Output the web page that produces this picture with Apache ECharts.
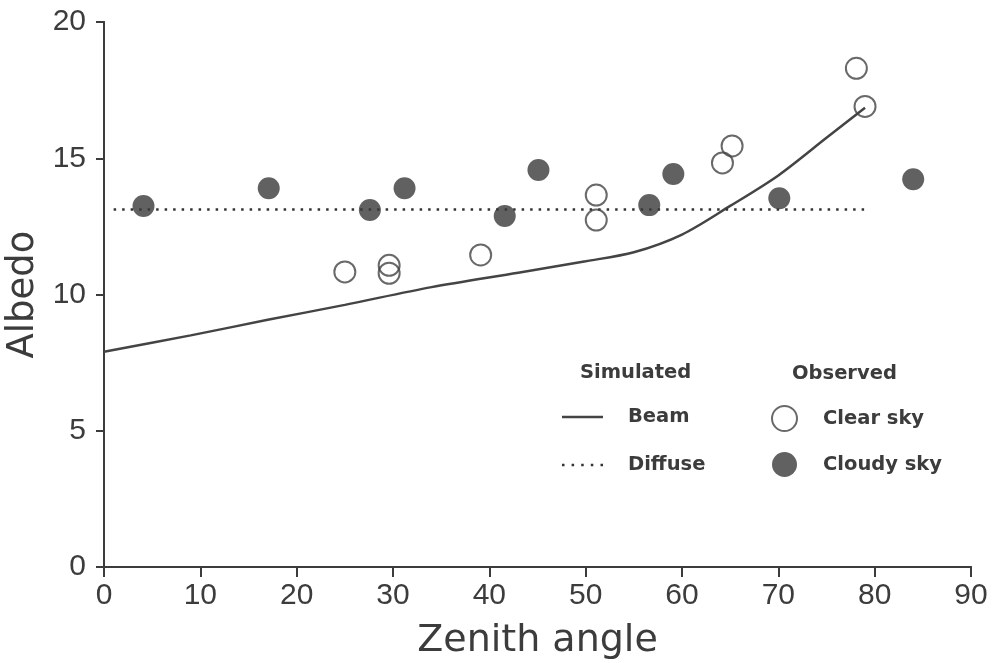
<!DOCTYPE html>
<html lang="en">
  <head>
    <meta charset="UTF-8" />
    <title>Albedo vs zenith angle</title>
    <script src="https://cdn.jsdelivr.net/npm/echarts@6/dist/echarts.min.js"></script>
    <style>
      html, body { margin: 0; padding: 0; background: #fff; }
      #main { width: 999px; height: 663px; }
    </style>
  </head>
  <body>
    <div id="main"></div>
    <script>
      // observed, clear sky (open circles)
      var clearX = [25.0, 29.6, 29.6, 39.1, 51.1, 51.1, 64.2, 65.2, 78.1, 79.0];
      var clearY = [10.83, 11.07, 10.78, 11.45, 13.65, 12.73, 14.83, 15.45, 18.3, 16.9];
      // observed, cloudy sky (filled circles)
      var cloudyX = [4.1, 17.1, 27.6, 31.2, 41.6, 45.1, 56.6, 59.1, 70.1, 84.0];
      var cloudyY = [13.25, 13.9, 13.1, 13.9, 12.88, 14.57, 13.28, 14.42, 13.53, 14.23];
      // simulated beam
      var beamX = [0, 9, 17, 25, 34, 43, 50, 55, 60, 65, 70, 75, 79];
      var beamY = [7.9, 8.5, 9.07, 9.62, 10.27, 10.8, 11.22, 11.55, 12.2, 13.25, 14.37, 15.75, 16.85];
      // simulated diffuse
      var diffuseX = [1, 79];
      var diffuseY = [13.12, 13.12];

      var xTicks = [0, 10, 20, 30, 40, 50, 60, 70, 80, 90];
      var yTicks = [0, 5, 10, 15, 20];

      var ink = "#3c3c3c";
      var tickFont = "Liberation Sans";

      function pairs(xs, ys) {
        var out = [];
        for (var i = 0; i < xs.length; i++) out.push([xs[i], ys[i]]);
        return out;
      }

      // legend icons: a plain stroke and five dots
      var solidIcon = "path://M0,0 L41,0 L41,2.5 L0,2.5 Z";
      var dottedIcon = "path://M0,0 h2.5 v2.5 h-2.5 Z M9.6,0 h2.5 v2.5 h-2.5 Z M19.2,0 h2.5 v2.5 h-2.5 Z" +
        " M28.8,0 h2.5 v2.5 h-2.5 Z M38.5,0 h2.5 v2.5 h-2.5 Z";

      var chart = echarts.init(document.getElementById("main"));

      var option = {
        backgroundColor: "#fff",
        animation: false,
        grid: { left: 104, right: 28, top: 22, bottom: 96, containLabel: false, outerBoundsMode: "none" },
        xAxis: [
          {
            type: "value",
            min: xTicks[0],
            max: xTicks[xTicks.length - 1],
            interval: 10,
            name: "Zenith angle",
            nameLocation: "middle",
            nameGap: 55,
            nameTextStyle: { fontFamily: "DejaVu Sans", fontSize: 38, color: ink },
            axisLine: { lineStyle: { color: ink, width: 2 } },
            axisTick: { length: 10, lineStyle: { color: ink, width: 2 } },
            axisLabel: { margin: 14, fontFamily: tickFont, fontSize: 30, color: ink },
            splitLine: { show: false }
          },
          {
            // closes the frame at the top
            type: "value",
            position: "top",
            min: 0, max: 90,
            axisLine: { show: true, lineStyle: { color: ink, width: 2 } },
            axisTick: { show: false },
            axisLabel: { show: false },
            splitLine: { show: false }
          }
        ],
        yAxis: [
          {
            type: "value",
            min: yTicks[0],
            max: yTicks[yTicks.length - 1],
            interval: 5,
            name: "Albedo",
            nameLocation: "middle",
            nameGap: 62,
            nameTextStyle: { fontFamily: "DejaVu Sans", fontSize: 37, color: ink },
            axisLine: { lineStyle: { color: ink, width: 2 } },
            axisTick: { length: 8, lineStyle: { color: ink, width: 2 } },
            axisLabel: { margin: 18, fontFamily: tickFont, fontSize: 30, color: ink },
            splitLine: { show: false }
          },
          {
            // closes the frame on the right
            type: "value",
            position: "right",
            min: 0, max: 20,
            axisLine: { show: true, lineStyle: { color: ink, width: 2 } },
            axisTick: { show: false },
            axisLabel: { show: false },
            splitLine: { show: false }
          }
        ],
        legend: [
          {
            data: [
              { name: "Beam", icon: solidIcon },
              { name: "Diffuse", icon: dottedIcon }
            ],
            orient: "vertical",
            left: 557,
            top: 401,
            itemWidth: 41,
            itemHeight: 2.5,
            itemGap: 26,
            textStyle: {
              fontFamily: "DejaVu Sans", fontWeight: "bold", fontSize: 19.5,
              lineHeight: 22, color: ink, padding: [0, 0, 0, 20]
            }
          },
          {
            data: ["Clear sky", "Cloudy sky"],
            orient: "vertical",
            left: 766,
            top: 400,
            itemWidth: 25,
            itemHeight: 25,
            itemGap: 20,
            textStyle: {
              fontFamily: "DejaVu Sans", fontWeight: "bold", fontSize: 19.5,
              color: ink, padding: [0, 0, 0, 21]
            }
          }
        ],
        graphic: [
          {
            type: "text",
            left: 580,
            top: 363,
            style: { text: "Simulated", font: "bold 19.5px 'DejaVu Sans'", fill: ink }
          },
          {
            type: "text",
            left: 792,
            top: 364,
            style: { text: "Observed", font: "bold 19.5px 'DejaVu Sans'", fill: ink }
          }
        ],
        series: [
          {
            name: "Beam",
            type: "line",
            data: pairs(beamX, beamY),
            smooth: 0.3,
            showSymbol: false,
            symbol: "none",
            lineStyle: { color: "#444", width: 2.5 },
            itemStyle: { color: "#444" },
            z: 2
          },
          {
            name: "Diffuse",
            type: "line",
            data: pairs(diffuseX, diffuseY),
            showSymbol: false,
            symbol: "none",
            lineStyle: { color: "#333", width: 2.5, type: [2.5, 6] },
            itemStyle: { color: "#333" },
            z: 2
          },
          {
            name: "Clear sky",
            type: "scatter",
            data: pairs(clearX, clearY),
            symbol: "circle",
            symbolSize: 21,
            itemStyle: { color: "rgba(255,255,255,0)", borderColor: "#444", borderWidth: 2 },
            z: 3
          },
          {
            name: "Cloudy sky",
            type: "scatter",
            data: pairs(cloudyX, cloudyY),
            symbol: "circle",
            symbolSize: 22,
            itemStyle: { color: "#3a3a3a" },
            z: 3
          }
        ]
      };

      chart.setOption(option);
    </script>
  </body>
</html>
